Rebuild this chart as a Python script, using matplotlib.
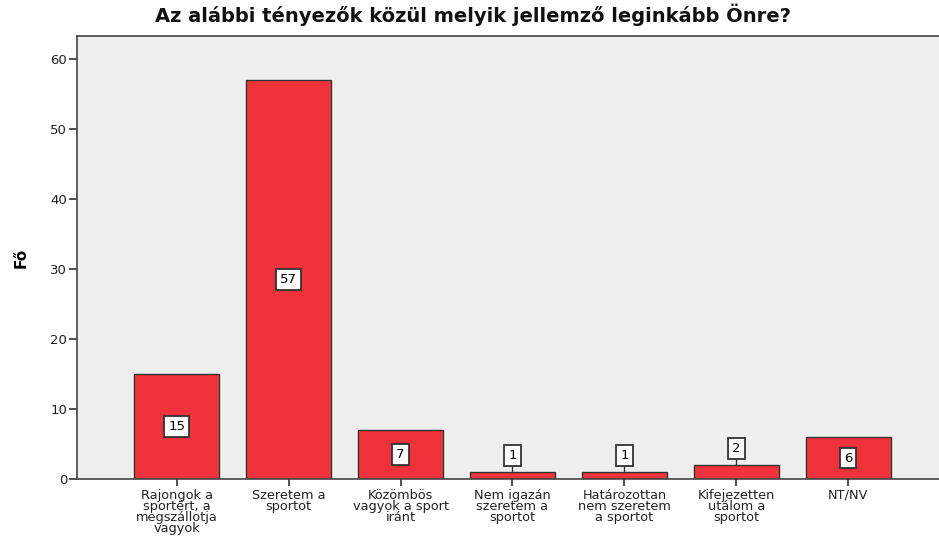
import matplotlib.pyplot as plt

plt.rcParams['font.family'] = ['DejaVu Sans']

categories = [
    "Rajongok a\nsportért, a\nmegszállotja\nvagyok",
    "Szeretem a\nsportot",
    "Közömbös\nvagyok a sport\niránt",
    "Nem igazán\nszeretem a\nsportot",
    "Határozottan\nnem szeretem\na sportot",
    "Kifejezetten\nutálom a\nsportot",
    "NT/NV",
]
counts = [15, 57, 7, 1, 1, 2, 6]

fig = plt.figure(figsize=(9.39, 5.37), dpi=100)
ax = fig.add_axes([77 / 939, 1 - 479 / 537, 1 - 77 / 939, (479 - 36) / 537])
ax.set_facecolor("#efefef")

x = list(range(len(counts)))
ax.bar(x, counts, width=0.76, color="#f0333a", edgecolor="#333333", linewidth=1.0, zorder=2)

box = dict(boxstyle="square,pad=0.3", fc="white", ec="#333333", lw=1.3)
for xi, c in zip(x, counts):
    if c >= 5:
        ax.text(xi, c / 2, str(c), ha="center", va="center", fontsize=9.5, bbox=box, zorder=3)
    else:
        ytxt = c + 2.3
        ax.plot([xi, xi], [c, ytxt - 1], color="#333333", lw=1.0, zorder=3)
        ax.text(xi, ytxt, str(c), ha="center", va="center", fontsize=9.5, bbox=box, zorder=3)

ax.set_xlim(-0.89, 6.81)
ax.set_ylim(0, 63.3)
ax.set_yticks([0, 10, 20, 30, 40, 50, 60])
ax.set_xticks(x)
ax.set_xticklabels(categories, fontsize=9.3, linespacing=0.8, color="#222222")
ax.tick_params(axis="y", labelsize=9.5, length=6, width=1.2, color="#333333", pad=1,
               labelcolor="#222222")
ax.tick_params(axis="x", length=5, width=1.2, color="#333333", pad=2)

for s in ["left", "bottom", "top"]:
    ax.spines[s].set_color("#444444")
    ax.spines[s].set_linewidth(1.2)
ax.spines["right"].set_visible(False)

ax.set_ylabel("Fő", fontsize=11, fontweight="bold", labelpad=16)
fig.text(473 / 939, 1 - 15 / 537, "Az alábbi tényezők közül melyik jellemző leginkább Önre?",
         fontsize=14, fontweight="bold", ha="center", va="center", color="#111111")

fig.savefig("out.png", dpi=100)
